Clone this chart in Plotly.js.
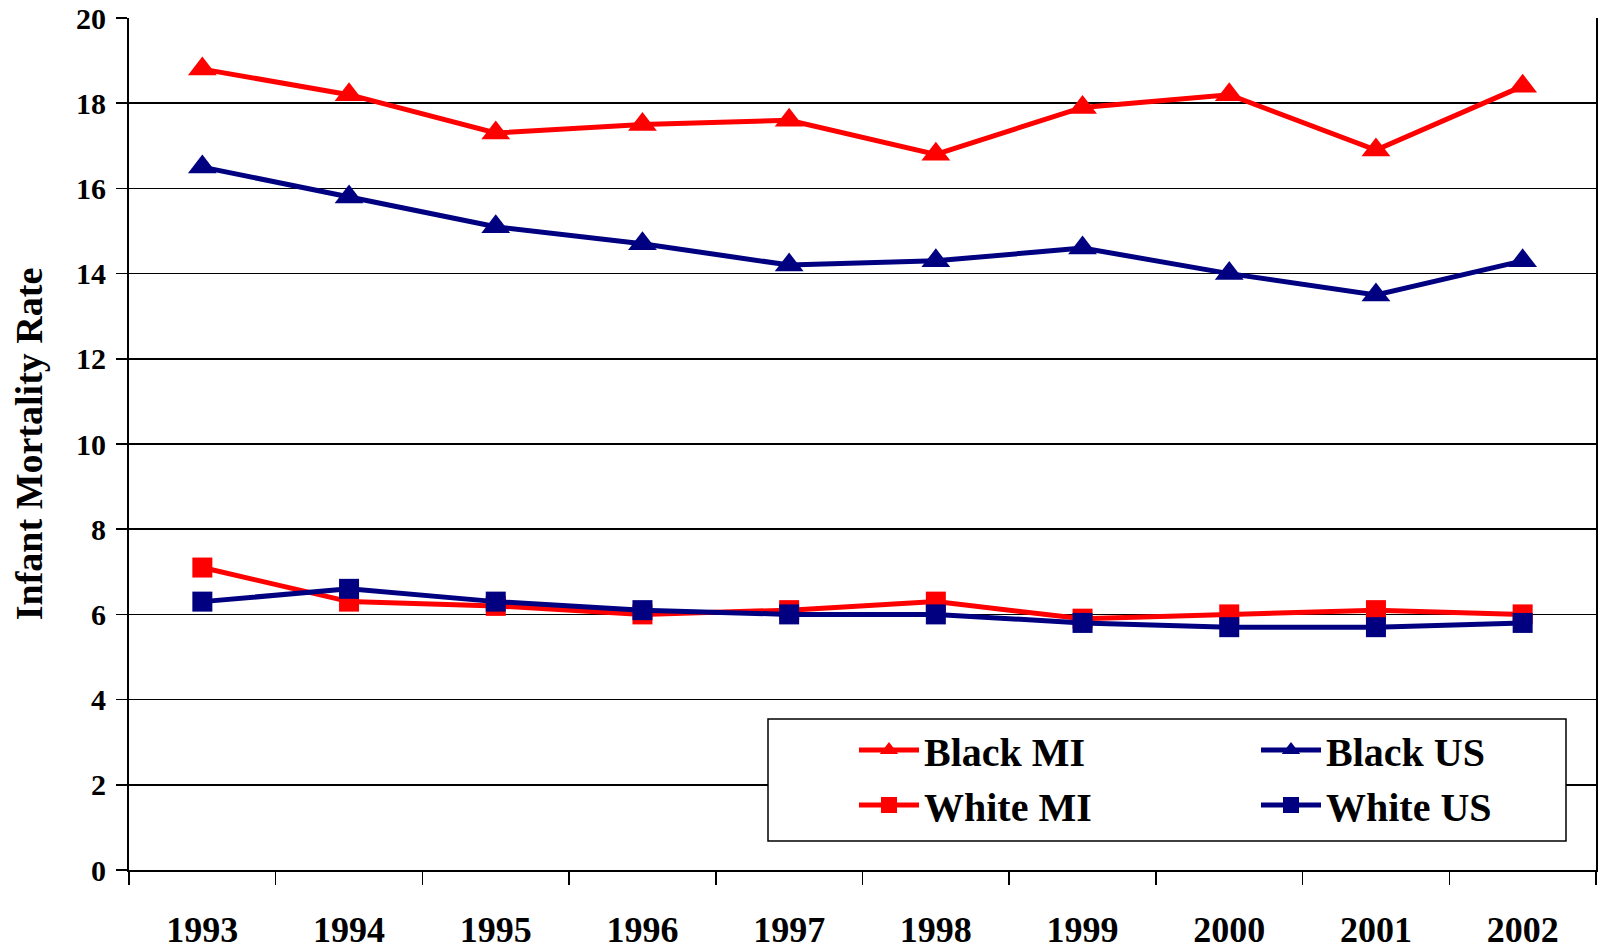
<!DOCTYPE html>
<html>
<head>
<meta charset="utf-8">
<script src="https://cdn.plot.ly/plotly-3.0.1.min.js"></script>
<style>html,body{margin:0;padding:0;background:#fff;}#chart{width:1599px;height:949px;}</style>
</head>
<body>
<div id="chart"></div>
<script>
const years = ['1993','1994','1995','1996','1997','1998','1999','2000','2001','2002'];
const blackMI = [18.8, 18.2, 17.3, 17.5, 17.6, 16.8, 17.9, 18.2, 16.9, 18.4];
const blackUS = [16.5, 15.8, 15.1, 14.7, 14.2, 14.3, 14.6, 14.0, 13.5, 14.3];
const whiteMI = [7.1, 6.3, 6.2, 6.0, 6.1, 6.3, 5.9, 6.0, 6.1, 6.0];
const whiteUS = [6.3, 6.6, 6.3, 6.1, 6.0, 6.0, 5.8, 5.7, 5.7, 5.8];
const yTicks = [0, 2, 4, 6, 8, 10, 12, 14, 16, 18, 20];

const RED = '#FF0000', NAVY = '#000080';
const FONT = 'Liberation Serif, Times New Roman, serif';

function tr(name, y, color, symbol, size, legend) {
  return {
    type: 'scatter', mode: 'lines+markers', name: name, legend: legend,
    x: years, y: y,
    line: {color: color, width: 5},
    marker: {color: color, symbol: symbol, size: size, line: {width: 0}},
    cliponaxis: false
  };
}

const data = [
  tr('<b>Black MI</b>', blackMI, RED, 'triangle-up', 25, 'legend'),
  tr('<b>Black US</b>', blackUS, NAVY, 'triangle-up', 25, 'legend2'),
  tr('<b>White MI</b>', whiteMI, RED, 'square', 20, 'legend'),
  tr('<b>White US</b>', whiteUS, NAVY, 'square', 20, 'legend2')
];

function leg(xpx) {
  return {
    orientation: 'v',
    x: (xpx - 129) / 1467, xanchor: 'left',
    y: 0.179, yanchor: 'top',
    bgcolor: 'rgba(0,0,0,0)', borderwidth: 0,
    itemwidth: 60,
    font: {family: FONT, size: 40, color: '#000'},
    traceorder: 'normal'
  };
}

const layout = {
  width: 1599, height: 949,
  margin: {l: 129, r: 3, t: 18, b: 79},
  paper_bgcolor: '#fff', plot_bgcolor: '#fff',
  font: {family: FONT, color: '#000'},
  showlegend: true,
  xaxis: {
    type: 'category',
    tickmode: 'array', tickvals: years, ticktext: years.map(t => '<b>' + t + '</b>'),
    tickson: 'boundaries',
    ticks: 'outside', ticklen: 13, tickwidth: 1.5, tickcolor: '#000',
    showline: true, linecolor: '#000', linewidth: 2,
    showgrid: false, zeroline: false,
    tickfont: {family: FONT, size: 36, color: '#000'},
    ticklabelstandoff: 27,
    range: [-0.5, 9.5], fixedrange: true, automargin: false
  },
  yaxis: {
    range: [0, 20],
    tickmode: 'array', tickvals: yTicks, ticktext: yTicks.map(v => '<b>' + v + '</b>'),
    ticks: 'outside', ticklen: 11, tickwidth: 1.5, tickcolor: '#000',
    showline: true, linecolor: '#000', linewidth: 2, mirror: true,
    showgrid: true, gridcolor: '#000', gridwidth: 1.5,
    zeroline: false,
    tickfont: {family: FONT, size: 30, color: '#000'},
    ticklabelstandoff: 4,
    title: {text: '<b>Infant Mortality Rate</b>', font: {family: FONT, size: 38, color: '#000'}, standoff: 22},
    fixedrange: true, automargin: false
  },
  legend: leg(854),
  legend2: leg(1256),
  shapes: [{
    type: 'rect', xref: 'paper', yref: 'paper',
    x0: (768 - 129) / 1467, x1: (1566 - 129) / 1467,
    y0: (870 - 841) / 852, y1: (870 - 719) / 852,
    line: {color: '#000', width: 1.5}, fillcolor: '#fff', layer: 'above'
  }]
};

Plotly.newPlot('chart', data, layout, {displayModeBar: false, staticPlot: true});
</script>
</body>
</html>
